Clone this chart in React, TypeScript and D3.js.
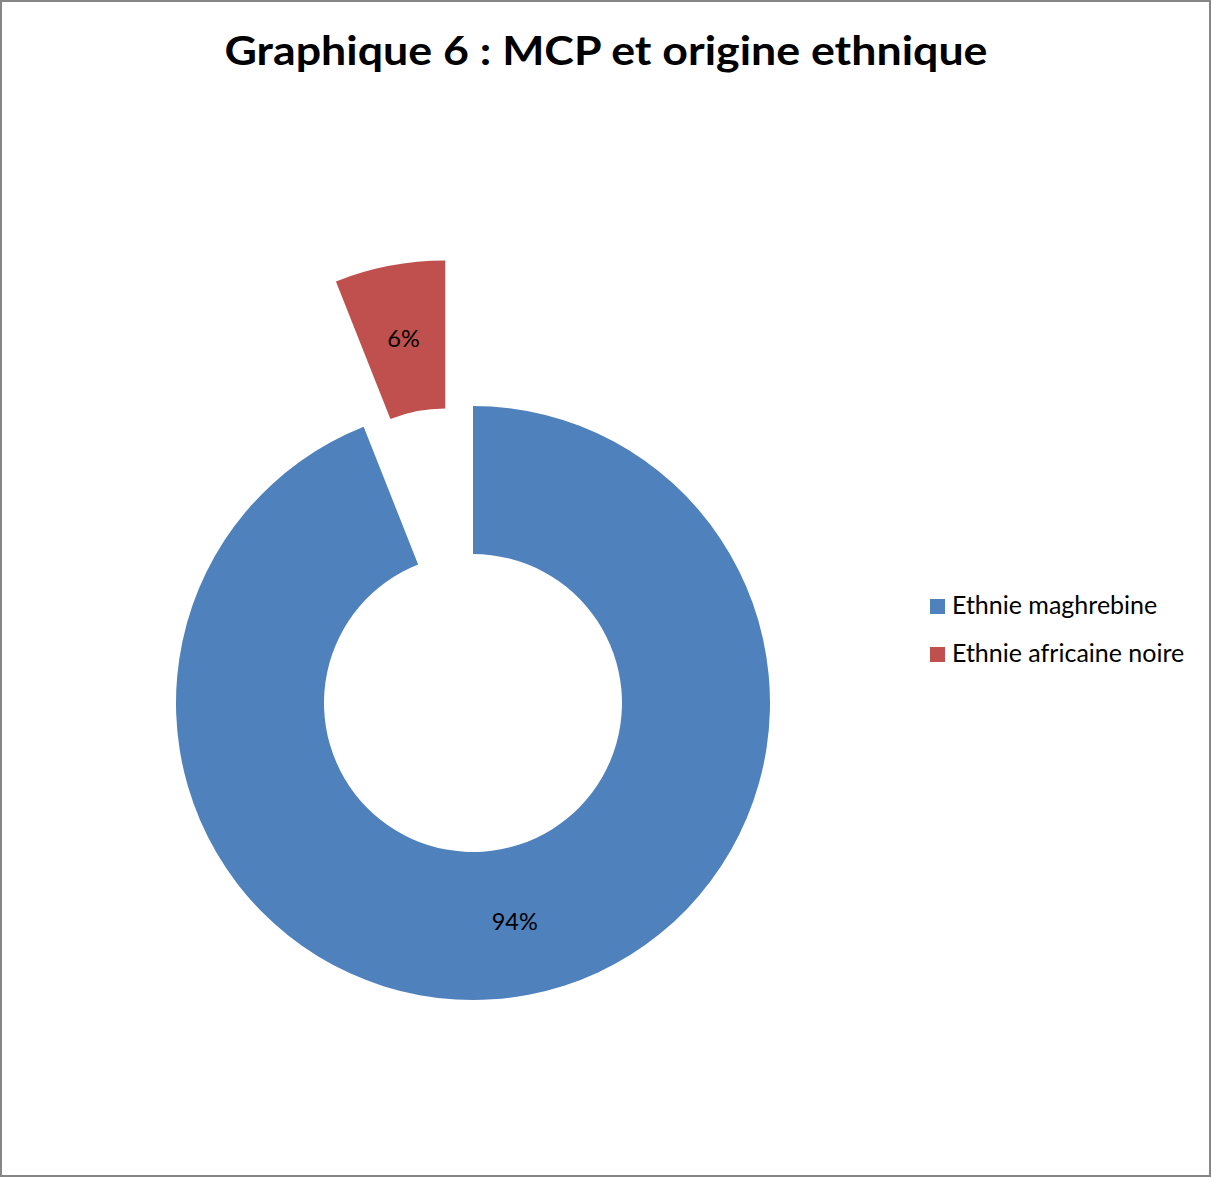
import React from "react";
import * as d3 from "d3";

const categories = ["Ethnie maghrebine", "Ethnie africaine noire"];
const values = [94, 6];
const percentLabels = ["94%", "6%"];
const colors = ["#4F81BD", "#C0504D"];
const title = "Graphique 6 : MCP et origine ethnique";

const W = 1212;
const H = 1178;
const cx = 473;
const cy = 703;
const outerR = 297;
const innerR = 149;
const explode = [0, 148];
const FONT = "Lato, 'Open Sans', 'DejaVu Sans', sans-serif";

export default function App() {
  const data = categories.map((c, i) => ({ name: c, value: values[i], label: percentLabels[i], color: colors[i], explode: explode[i] }));
  const pie = d3.pie<any>().sort(null).value((d: any) => d.value).startAngle(0).endAngle(2 * Math.PI);
  const arcs = pie(data);
  const arcGen = d3.arc<any>().innerRadius(innerR).outerRadius(outerR);
  return (
    <svg width={W} height={H} style={{ position: "absolute", left: 0, top: 0, background: "#fff" }}>
      <rect x={1} y={1} width={W - 3} height={H - 3} fill="#fff" stroke="#868686" strokeWidth={2} />
      <text x={606} y={65} textAnchor="middle" fontFamily={FONT} fontWeight="bold" fontSize={40} fill="#000" textLength={763} lengthAdjust="spacingAndGlyphs">
        {title}
      </text>
      <g transform={`translate(${cx},${cy})`}>
        {arcs.map((a, i) => {
          const mid = (a.startAngle + a.endAngle) / 2;
          const dx = Math.sin(mid) * a.data.explode;
          const dy = -Math.cos(mid) * a.data.explode;
          const [lx, ly] = arcGen.centroid(a);
          return (
            <g key={i} transform={`translate(${dx},${dy})`}>
              <path d={arcGen(a) as string} fill={a.data.color} />
              <text x={lx} y={ly} dy="0.35em" textAnchor="middle" fontFamily={FONT} fontSize={23.5} fill="#000">
                {a.data.label}
              </text>
            </g>
          );
        })}
      </g>
      <g>
        {data.map((d, i) => (
          <g key={i} transform={`translate(930,${599 + i * 48})`}>
            <rect x={0} y={0} width={15} height={15} fill={d.color} />
            <text x={22} y={15} fontFamily={FONT} fontSize={25} fill="#000">
              {d.name}
            </text>
          </g>
        ))}
      </g>
    </svg>
  );
}
